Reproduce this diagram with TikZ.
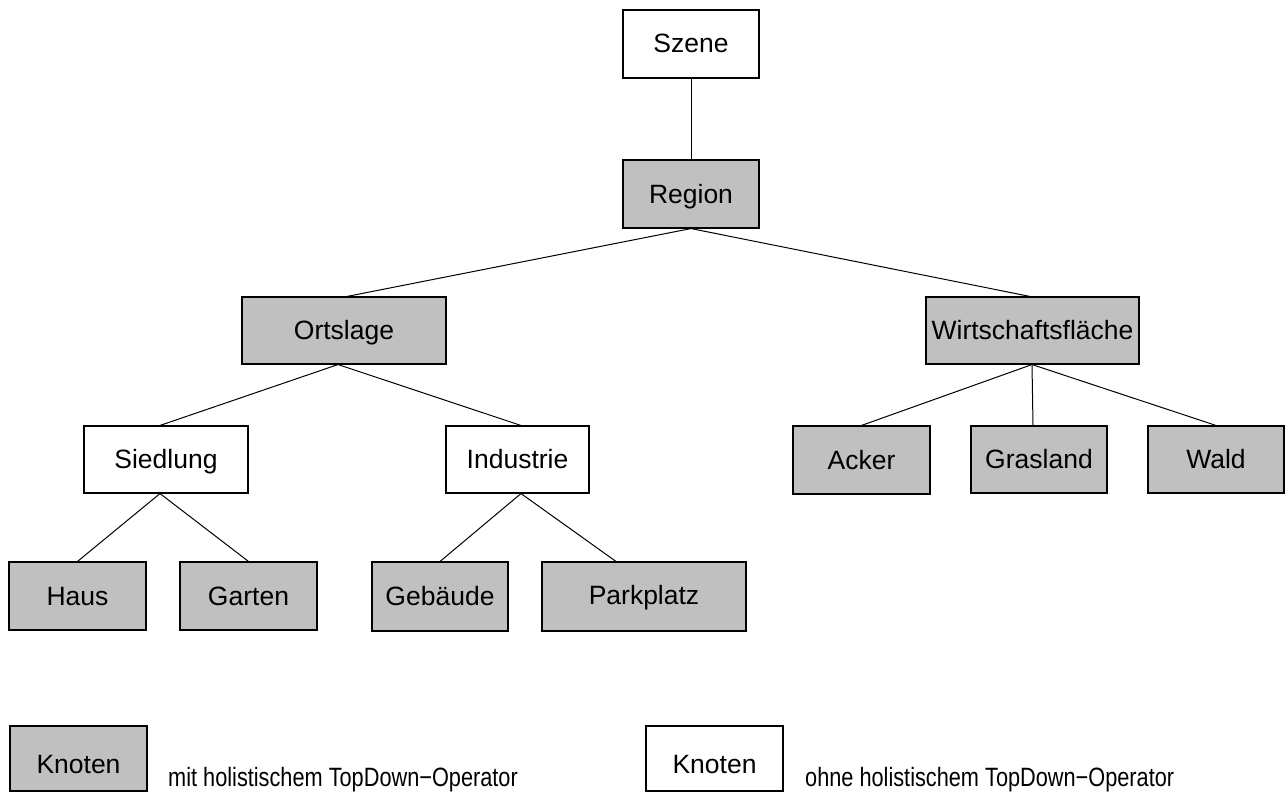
\documentclass[tikz,border=0pt]{standalone}
\usepackage{fontspec}
\setmainfont{Liberation Sans}
\newfontfamily\narrowsans[FakeStretch=0.82]{Liberation Sans}
\definecolor{boxgray}{RGB}{192,192,192}
\begin{document}
\begin{tikzpicture}[x=1pt,y=-1pt,
  box/.style={draw=black, line width=1.1pt, rectangle, inner sep=0pt,
    text height=19pt, text depth=1pt, font=\fontsize{26.5}{30}\selectfont},
  holo/.style={box, fill=boxgray},
  plain/.style={box, fill=white},
  link/.style={draw=black, line width=1pt},
  keytext/.style={anchor=base, inner sep=0pt, font=\fontsize{26.5}{30}\selectfont},
  desc/.style={anchor=base west, inner sep=0pt, font=\narrowsans\fontsize{26.5}{30}\selectfont}]
\useasboundingbox (0,0) rectangle (1285,792);

% tree nodes
\node[plain, minimum width=136pt, minimum height=68pt] (szene)  at (691,44)     {Szene};
\node[holo,  minimum width=136pt, minimum height=68pt] (region) at (691,194)    {Region};
\node[holo,  minimum width=204pt, minimum height=67pt] (ort)    at (344,330.5)  {Ortslage};
\node[holo,  minimum width=213pt, minimum height=67pt] (wf)     at (1032.5,330.5) {Wirtschaftsfläche};
\node[plain, minimum width=164pt, minimum height=67pt] (sied)   at (166,459.5)  {Siedlung};
\node[plain, minimum width=143pt, minimum height=67pt] (ind)    at (517.5,459.5) {Industrie};
\node[holo,  minimum width=137pt, minimum height=68pt] (acker)  at (861.5,460)  {Acker};
\node[holo,  minimum width=136pt, minimum height=67pt] (gras)   at (1039,459.5) {Grasland};
\node[holo,  minimum width=136pt, minimum height=67pt] (wald)   at (1216,459.5) {Wald};
\node[holo,  minimum width=137pt, minimum height=68pt] (haus)   at (77.5,596)   {Haus};
\node[holo,  minimum width=137pt, minimum height=68pt] (garten) at (248.5,596)  {Garten};
\node[holo,  minimum width=136pt, minimum height=69pt] (geb)    at (440,596.5)  {Gebäude};
\node[holo,  minimum width=204pt, minimum height=69pt, text height=16pt, text depth=1pt] (park) at (644,596.5) {Parkplatz};

% connectors
\draw[link] (szene.south) -- (region.north);
\draw[link] (region.south) -- ([xshift=3pt]ort.north);
\draw[link] (region.south) -- ([xshift=-2.5pt]wf.north);
\draw[link] ([xshift=-6pt]ort.south) -- ([xshift=-6pt]sied.north);
\draw[link] ([xshift=-6pt]ort.south) -- ([xshift=3.5pt]ind.north);
\draw[link] ([xshift=-0.5pt]wf.south) -- (acker.north);
\draw[link] ([xshift=-0.5pt]wf.south) -- ([xshift=-6pt]gras.north);
\draw[link] ([xshift=-0.5pt]wf.south) -- (wald.north);
\draw[link] ([xshift=-6pt]sied.south) -- (haus.north);
\draw[link] ([xshift=-6pt]sied.south) -- (garten.north);
\draw[link] ([xshift=3.5pt]ind.south) -- (geb.north);
\draw[link] ([xshift=3.5pt]ind.south) -- ([xshift=-28pt]park.north);

% legend
\node[holo,  minimum width=137pt, minimum height=65pt] (keyholo)  at (78.5,758.5) {};
\node[keytext] (keyholotxt) at (78.5,773) {Knoten};
\node[desc] (descholo) at (168,786) {mit holistischem TopDown−Operator};
\node[plain, minimum width=137pt, minimum height=65pt] (keyplain) at (714.5,758.5) {};
\node[keytext] (keyplaintxt) at (714.5,773) {Knoten};
\node[desc] (descplain) at (805,786) {ohne holistischem TopDown−Operator};
\end{tikzpicture}
\end{document}
